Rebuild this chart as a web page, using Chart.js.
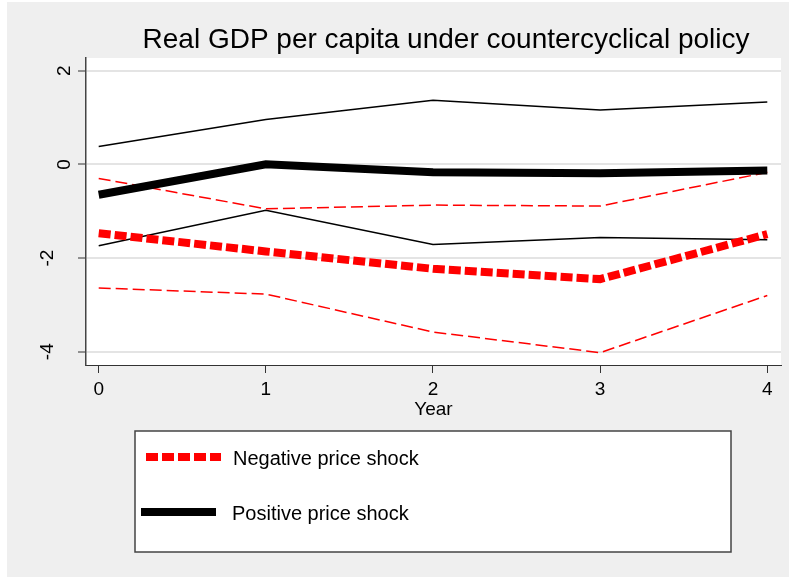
<!DOCTYPE html>
<html>
<head>
<meta charset="utf-8">
<script src="https://cdn.jsdelivr.net/npm/chart.js@4.4.1/dist/chart.umd.min.js"></script>
<style>
  html, body { margin: 0; padding: 0; background: #fff; }
  #wrap { width: 789px; height: 577px; }
</style>
</head>
<body>
<div id="wrap"><canvas id="chart" width="789" height="577"></canvas></div>
<script>
const chartTitle = 'Real GDP per capita under countercyclical policy';
const xTitle = 'Year';
const years = [0, 1, 2, 3, 4];
const yTicks = [2, 0, -2, -4];

// negative price shock: point estimate and band
const negPoint = [-1.47, -1.86, -2.23, -2.45, -1.49];
const negUpper = [-0.30, -0.95, -0.87, -0.89, -0.17];
const negLower = [-2.64, -2.77, -3.58, -4.02, -2.80];

// positive price shock: point estimate and band
const posPoint = [-0.65, 0.00, -0.17, -0.19, -0.13];
const posUpper = [0.38, 0.96, 1.37, 1.16, 1.33];
const posLower = [-1.74, -0.98, -1.71, -1.56, -1.61];

const legendLabels = ['Negative price shock', 'Positive price shock'];

const FONT = '"Liberation Sans", Arial, sans-serif';
const RED = '#ff0000';

const pts = vals => vals.map((v, i) => ({ x: years[i], y: v }));

function line(label, vals, color, width, dash) {
  return {
    label: label,
    data: pts(vals),
    borderColor: color,
    borderWidth: width,
    borderDash: dash,
    borderCapStyle: 'butt',
    pointRadius: 0,
    tension: 0,
    fill: false
  };
}

const datasets = [
  line(legendLabels[0], negPoint, RED, 8, [12, 4]),
  line(legendLabels[1], posPoint, '#000', 8, []),
  line('neg upper', negUpper, RED, 1.5, [12, 5]),
  line('neg lower', negLower, RED, 1.5, [12, 5]),
  line('pos upper', posUpper, '#000', 1.5, []),
  line('pos lower', posLower, '#000', 1.5, [])
];

const decor = {
  id: 'decor',
  beforeDraw(chart) {
    const { ctx, chartArea: a, width, height } = chart;
    ctx.save();
    ctx.fillStyle = '#fff';
    ctx.fillRect(0, 0, width, height);
    ctx.fillStyle = '#efefef';
    ctx.fillRect(7, 2, width - 7, height - 2);
    ctx.fillStyle = '#fff';
    ctx.fillRect(a.left, a.top, a.right - a.left, a.bottom - a.top);
    ctx.restore();
  },
  afterDraw(chart) {
    const ctx = chart.ctx;
    const yScale = chart.scales.y;
    ctx.save();

    // title
    ctx.fillStyle = '#000';
    ctx.font = '28px ' + FONT;
    ctx.textAlign = 'center';
    ctx.textBaseline = 'alphabetic';
    ctx.fillText(chartTitle, 446, 48);

    // rotated y tick labels
    ctx.font = '19px ' + FONT;
    yTicks.forEach(v => {
      const y = yScale.getPixelForValue(v);
      ctx.save();
      ctx.translate(v < 0 ? 53 : 70, y);
      ctx.rotate(-Math.PI / 2);
      ctx.textAlign = 'center';
      ctx.fillText(String(v), 0, 0);
      ctx.restore();
    });

    // legend box
    ctx.fillStyle = '#fff';
    ctx.fillRect(135, 431, 596, 121);
    ctx.strokeStyle = '#444';
    ctx.lineWidth = 1.5;
    ctx.strokeRect(135, 431, 596, 121);

    const rows = [
      { y: 457, x0: 146, x1: 221, tx: 233 },
      { y: 512, x0: 141, x1: 216, tx: 232 }
    ];
    legendLabels.forEach((lab, i) => {
      const ds = chart.data.datasets.find(d => d.label === lab);
      const r = rows[i];
      ctx.beginPath();
      ctx.setLineDash(ds.borderDash);
      ctx.lineCap = 'butt';
      ctx.strokeStyle = ds.borderColor;
      ctx.lineWidth = ds.borderWidth;
      ctx.moveTo(r.x0, r.y);
      ctx.lineTo(r.x1, r.y);
      ctx.stroke();
      ctx.setLineDash([]);
      ctx.fillStyle = '#000';
      ctx.font = '20px ' + FONT;
      ctx.textAlign = 'left';
      ctx.textBaseline = 'alphabetic';
      ctx.fillText(lab, r.tx, r.y + 8);
    });
    ctx.restore();
  }
};

new Chart(document.getElementById('chart'), {
  type: 'line',
  data: { datasets: datasets },
  options: {
    responsive: false,
    animation: false,
    layout: { padding: { left: 86, right: 8, top: 58, bottom: 0 } },
    plugins: {
      legend: { display: false },
      tooltip: { enabled: false },
      title: { display: false }
    },
    scales: {
      x: {
        type: 'linear',
        min: -0.076,
        max: 4.082,
        afterBuildTicks: s => { s.ticks = years.map(v => ({ value: v })); },
        afterFit: s => { s.height = 212; },
        grid: {
          drawOnChartArea: false,
          drawTicks: true,
          tickLength: 8,
          tickColor: '#333',
          tickWidth: 1
        },
        border: { display: true, color: '#333', width: 1 },
        ticks: {
          color: '#000',
          font: { family: FONT, size: 19 },
          padding: 5,
          maxRotation: 0
        },
        title: {
          display: true,
          text: xTitle,
          color: '#000',
          font: { family: FONT, size: 19 },
          padding: { top: 0, bottom: 156 }
        }
      },
      y: {
        type: 'linear',
        min: -4.284,
        max: 2.271,
        afterBuildTicks: s => { s.ticks = yTicks.map(v => ({ value: v })); },
        afterFit: s => { s.width = 0; },
        grid: {
          color: '#e4e4e4',
          lineWidth: 2,
          drawTicks: true,
          tickLength: 8,
          tickColor: '#333',
          tickWidth: 1
        },
        border: { display: true, color: '#444', width: 1.5 },
        ticks: { display: false }
      }
    }
  },
  plugins: [decor]
});
</script>
</body>
</html>
